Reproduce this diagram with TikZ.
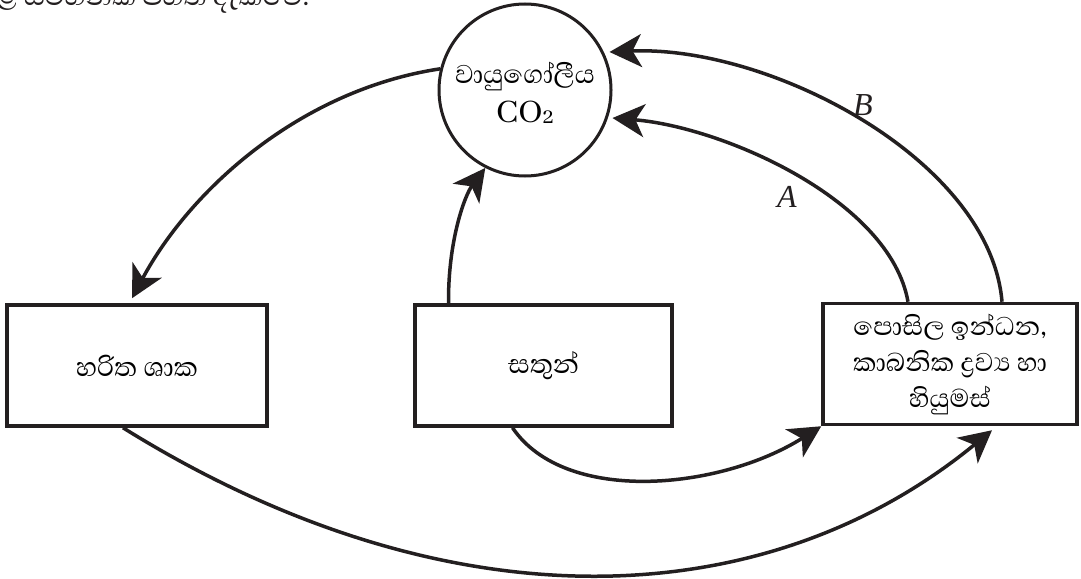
\documentclass[tikz,border=0pt]{standalone}
\usepackage{fontspec}
\newfontfamily\sinhalafont[Script=Sinhala]{Abhaya Libre}
\newfontfamily\lblfont{Liberation Serif}
\usetikzlibrary{arrows.meta}
\definecolor{ink}{RGB}{35,31,32}
\begin{document}
\begin{tikzpicture}[x=1pt,y=-1pt,
  box/.style={draw=ink, line width=3.5pt, inner sep=0pt, align=center,
    minimum height=121pt, font=\sinhalafont\fontsize{34}{36}\selectfont},
  flow/.style={draw=ink, line width=3.5pt, -{Stealth[length=32pt,width=33pt,inset=9pt]}},
  lbl/.style={font=\lblfont\itshape\fontsize{32}{32}\selectfont, text=ink}]
\fill[white] (0,0) rectangle (1081,578);
\useasboundingbox (0,0) rectangle (1081,578);
% partial heading text, cut by the top edge (as in the reference)
\node[anchor=base west, inner sep=0pt, text=ink, font=\sinhalafont\fontsize{34}{34}\selectfont] (head) at (-4,6) {ළ සටහනක් පහත දැක්වේ.};
% nodes
\node[circle, draw=ink, line width=3pt, minimum size=172pt, inner sep=0pt,
  font=\sinhalafont\fontsize{33}{38}\selectfont] (co2) at (525,90)
  {\raisebox{-5pt}[\height][\depth]{\begin{tabular}{@{}c@{}}වායුගෝලීය\\[1pt]{\fontsize{36}{36}\selectfont CO\raisebox{-0.1ex}{\fontsize{24}{24}\selectfont 2}}\end{tabular}}};
\node[box, minimum width=260pt] (lb) at (137,365.5) {හරිත ශාක};
\node[box, minimum width=257pt] (mb) at (543.5,365.5) {සතුන්};
\node[box, minimum width=254pt, font=\sinhalafont\fontsize{33}{36}\selectfont] (rb) at (950,364) {පොසිල ඉන්ධන,\\කාබනික ද්‍රව්‍ය හා\\හියුමස්};
% connectors
\draw[flow] (co2.166) .. controls (300,90) and (190,190) .. ([shift={(-5,-5)}]lb.north);
\draw[flow] ([shift={(-95,0)}]mb.north) .. controls (448,240) and (465,195) .. (co2.243);
\draw[flow] ([shift={(-42,0)}]rb.north) .. controls (890,200) and (723,127) .. ([shift={(0,28)}]co2.east);
\draw[flow] ([shift={(52,0)}]rb.north) .. controls (990,160) and (770,45) .. ([shift={(-3,-38)}]co2.east);
\draw[flow] ([shift={(-31,0)}]mb.south) .. controls (565,505) and (720,490) .. (rb.south west);
\draw[flow] ([shift={(-14,0)}]lb.south) .. controls (443,627) and (762,619) .. ([shift={(42,4)}]rb.south);
% labels
\node[lbl] (labA) at (787,197) {A};
\node[lbl] (labB) at (863,105) {B};
\end{tikzpicture}
\end{document}
